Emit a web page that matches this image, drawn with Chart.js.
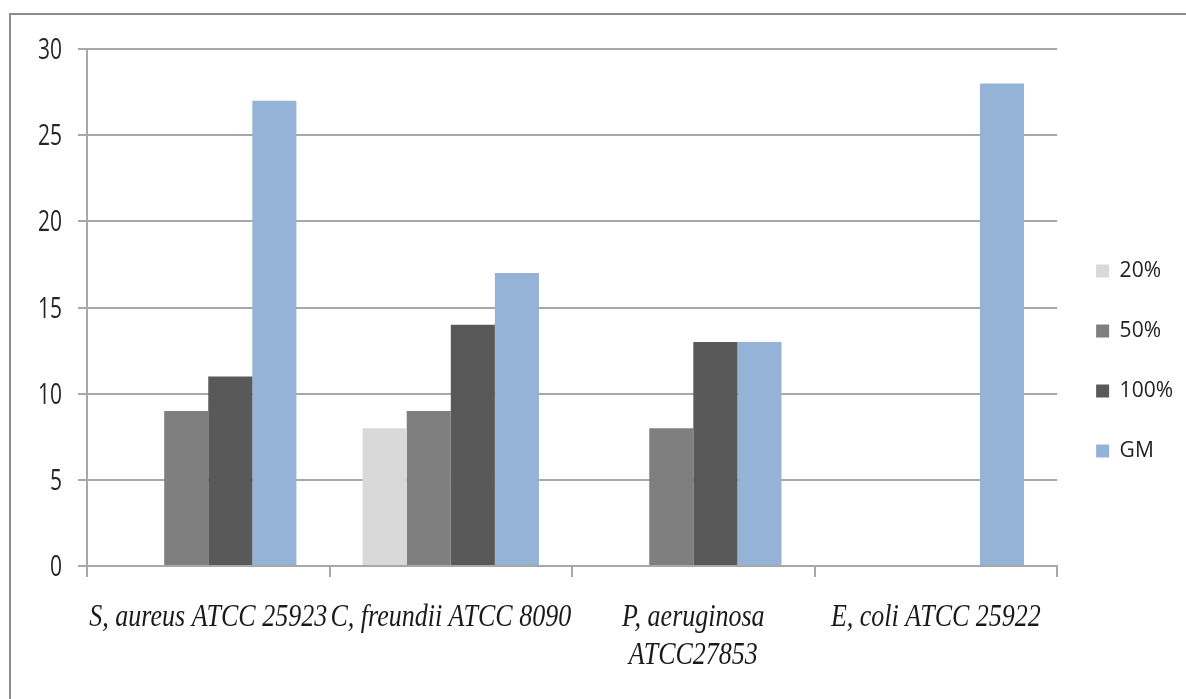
<!DOCTYPE html>
<html lang="en">
<head>
<meta charset="UTF-8">
<title>Inhibition zones</title>
<script src="https://cdn.jsdelivr.net/npm/chart.js@4.4.0/dist/chart.umd.min.js"></script>
<style>
  body { margin: 0; background: #fff; }
  /* frame lines on the top and left of the figure */
  #frame {
    position: absolute; left: 9px; top: 13px;
    width: 1175px; height: 684px;
    border-left: 2px solid #8c8c8c; border-top: 2px solid #8c8c8c;
  }
</style>
</head>
<body>
<div id="frame"><canvas id="chart"></canvas></div>

<script>
  // strains (one entry per line of the label)
  const strains = [
    ['S, aureus ATCC 25923'],
    ['C, freundii ATCC 8090'],
    ['P, aeruginosa', 'ATCC27853'],
    ['E, coli ATCC 25922']
  ];
  const pct20 = [0, 8, 0, 0];
  const pct50 = [9, 9, 8, 0];
  const pct100 = [11, 14, 13, 0];
  const gm = [27, 17, 13, 28];
  const yTicks = [0, 5, 10, 15, 20, 25, 30];

  const gridColor = '#a8a8a8';

  // axis texts come out taller than the font, so draw them with a vertical stretch
  const stretchedLabels = {
    id: 'stretchedLabels',
    afterDraw(chart) {
      const ctx = chart.ctx;
      const x = chart.scales.x;
      const y = chart.scales.y;
      ctx.save();

      ctx.fillStyle = '#1a1a1a';
      ctx.textAlign = 'center';
      ctx.textBaseline = 'alphabetic';
      ctx.font = 'italic 26px "Liberation Serif"';
      strains.forEach((lines, i) => {
        const cx = x.getPixelForValue(i);
        lines.forEach((line, j) => {
          ctx.save();
          ctx.translate(cx, x.top + 60 + j * 38);
          ctx.scale(1, 1.25);
          ctx.fillText(line, 0, 0);
          ctx.restore();
        });
      });

      ctx.fillStyle = '#262626';
      ctx.textAlign = 'right';
      ctx.font = '21px "Open Sans"';
      yTicks.forEach(v => {
        ctx.save();
        ctx.translate(y.right - 25, y.getPixelForValue(v) + 10);
        ctx.scale(1, 1.4);
        ctx.fillText(String(v), 0, 0);
        ctx.restore();
      });

      ctx.restore();
    }
  };

  const ctx = document.getElementById('chart').getContext('2d');

  new Chart(ctx, {
    type: 'bar',
    data: {
      labels: strains.map(s => s.join(' ')),
      datasets: [
        { label: '20%', data: pct20, backgroundColor: '#d9d9d9' },
        { label: '50%', data: pct50, backgroundColor: '#7f7f7f' },
        { label: '100%', data: pct100, backgroundColor: '#595959' },
        { label: 'GM', data: gm, backgroundColor: '#95b3d7' }
      ]
    },
    options: {
      responsive: true,
      maintainAspectRatio: false,
      animation: false,
      datasets: {
        bar: { barPercentage: 1, categoryPercentage: 0.727, borderWidth: 0 }
      },
      layout: { padding: { top: 34, right: 3, bottom: 26, left: 0 } },
      scales: {
        x: {
          offset: true,
          grid: {
            offset: true,
            drawOnChartArea: false,
            drawTicks: true,
            tickLength: 11,
            color: gridColor,
            lineWidth: 2
          },
          border: { display: true, color: gridColor, width: 2 },
          ticks: { display: false },
          afterFit(axis) { axis.height = 107; }
        },
        y: {
          min: 0,
          max: 30,
          ticks: { display: false, stepSize: 5 },
          grid: { color: gridColor, lineWidth: 2, tickLength: 9 },
          border: { display: true, color: gridColor, width: 2 },
          afterFit(axis) { axis.width = 76; }
        }
      },
      plugins: {
        legend: {
          position: 'right',
          align: 'center',
          labels: {
            boxWidth: 13,
            boxHeight: 13,
            padding: 39,
            color: '#222',
            font: { family: 'Open Sans', size: 21 }
          }
        },
        tooltip: { enabled: false }
      }
    },
    plugins: [stretchedLabels]
  });
</script>
</body>
</html>
